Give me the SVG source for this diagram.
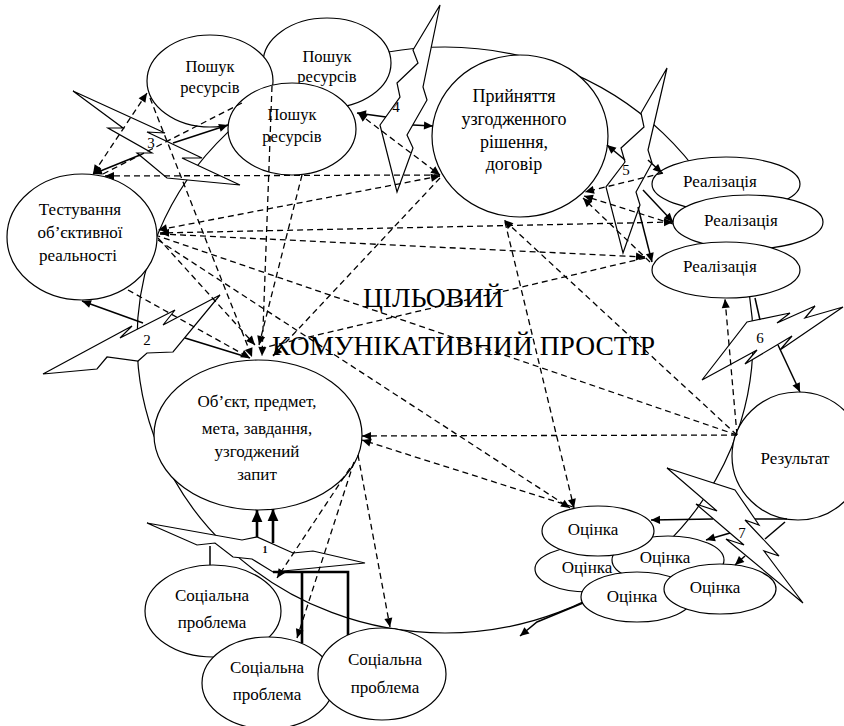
<svg xmlns="http://www.w3.org/2000/svg" width="844" height="726" viewBox="0 0 844 726" font-family="'Liberation Serif', 'DejaVu Serif', serif">
<style>
.n{fill:#fff;stroke:#000;stroke-width:1.2}
.t{font-family:'Liberation Serif','DejaVu Serif',serif;font-size:17px;fill:#000;text-anchor:middle}
.p{font-size:16.5px}
.big{font-size:18px}
.bolt{fill:#fff;stroke:#000;stroke-width:1.2;stroke-linejoin:miter}
.d{fill:none;stroke:#000;stroke-width:1.3;stroke-dasharray:6 4}
.s{fill:none;stroke:#000;stroke-width:1.5}
.k{fill:none;stroke:#000;stroke-width:2.6}
.title{font-family:'Liberation Serif','DejaVu Serif',serif;font-size:27.5px;fill:#000}
.bl{font-family:'Liberation Serif','DejaVu Serif',serif;font-size:15px;fill:#000;text-anchor:middle}
</style>
<defs>
<marker id="a" viewBox="0 0 10 10" refX="10" refY="5" markerWidth="10" markerHeight="9" markerUnits="userSpaceOnUse" orient="auto-start-reverse"><path d="M0,0.5 L10,5 L0,9.5 z" fill="#000"/></marker>
<marker id="b" viewBox="0 0 10 10" refX="10" refY="5" markerWidth="13" markerHeight="12" markerUnits="userSpaceOnUse" orient="auto-start-reverse"><path d="M0,0.5 L10,5 L0,9.5 z" fill="#000"/></marker>
</defs>

<!-- big space ellipse -->
<ellipse id="space" cx="445" cy="340" rx="308" ry="293" fill="none" stroke="#000" stroke-width="1.2"/>

<!-- lightning bolts -->
<g id="bolts">
<polygon class="bolt" points="365,563 313,551 293,553 257,537 242,540 147,523 197,545 215,543 233,557 252,559 273,572"/>
<polygon class="bolt" points="220,295 163,325 175,310 120,338 132,326 43,374 97,369 107,357 138,361 147,353 173,352"/>
<polygon class="bolt" points="240,185 182,158 202,158 147,132 165,133 73,91 123,128 108,128 152,153 137,153 167,178"/>
<polygon class="bolt" points="397,192 413,148 407,135 427,100 423,87 440,5 413,50 418,63 397,83 400,97 380,125"/>
<polygon class="bolt" points="623,253 640,205 636,192 652,163 648,150 667,68 641,113 644,127 621,148 625,162 606,187"/>
<polygon class="bolt" points="747,322 790,313 777,323 815,306 805,318 843,307 780,350 792,336 745,364 757,350 702,380"/>
<polygon class="bolt" points="735,490 759,525 745,520 779,556 764,551 803,603 726,539 744,545 696,504 717,511 667,468"/>
</g>

<!-- nodes -->
<g id="search2"><ellipse class="n" cx="327" cy="63" rx="64" ry="45"/><text class="t p" x="327" y="62">Пошук</text><text class="t p" x="327" y="82">ресурсів</text></g>
<g id="search1"><ellipse class="n" cx="210" cy="81" rx="63" ry="46"/><text class="t p" x="210" y="72">Пошук</text><text class="t p" x="210" y="93">ресурсів</text></g>
<g id="search3"><ellipse class="n" cx="292" cy="129" rx="64" ry="46"/><text class="t p" x="292" y="120">Пошук</text><text class="t p" x="292" y="142">ресурсів</text></g>
<g id="testing"><ellipse class="n" cx="82" cy="237" rx="75" ry="63"/><text class="t" x="80" y="215">Тестування</text><text class="t" x="80" y="238">об’єктивної</text><text class="t" x="78" y="261">реальності</text></g>
<g id="decision"><ellipse class="n" cx="520" cy="136" rx="88" ry="81"/><text class="t big" x="514" y="102">Прийняття</text><text class="t big" x="514" y="125">узгодженного</text><text class="t big" x="514" y="148">рішення,</text><text class="t big" x="514" y="170">договір</text></g>
<g id="real1"><ellipse class="n" cx="726" cy="184" rx="74" ry="27"/><text class="t" x="720" y="187">Реалізація</text></g>
<g id="real2"><ellipse class="n" cx="748" cy="222" rx="75" ry="27"/><text class="t" x="741" y="226">Реалізація</text></g>
<g id="real3"><ellipse class="n" cx="726" cy="270" rx="74" ry="28"/><text class="t" x="720" y="272">Реалізація</text></g>
<g id="result"><ellipse class="n" cx="798" cy="456" rx="66" ry="64"/><text class="t" x="795" y="464">Результат</text></g>
<g id="object"><ellipse class="n" cx="258" cy="435" rx="104" ry="75"/><text class="t" x="257" y="407">Об’єкт, предмет,</text><text class="t" x="257" y="434">мета, завдання,</text><text class="t" x="257" y="457">узгоджений</text><text class="t" x="257" y="480">запит</text></g>
<g id="soc1"><ellipse class="n" cx="213" cy="611" rx="68" ry="46"/><text class="t" x="212" y="601">Соціальна</text><text class="t" x="212" y="628">проблема</text></g>
<g id="soc2"><ellipse class="n" cx="268" cy="683" rx="66" ry="46"/><text class="t" x="267" y="673">Соціальна</text><text class="t" x="267" y="700">проблема</text></g>
<g id="soc3"><ellipse class="n" cx="382" cy="674" rx="64" ry="46"/><text class="t" x="385" y="665">Соціальна</text><text class="t" x="385" y="693">проблема</text></g>
<g id="eval3"><ellipse class="n" cx="588" cy="569" rx="53" ry="23"/><text class="t" x="587" y="573">Оцінка</text></g>
<g id="eval2"><ellipse class="n" cx="668" cy="560" rx="56" ry="24"/><text class="t" x="665" y="563">Оцінка</text></g>
<g id="eval1"><ellipse class="n" cx="598" cy="531" rx="56" ry="25"/><text class="t" x="593" y="535">Оцінка</text></g>
<g id="eval4"><ellipse class="n" cx="637" cy="597" rx="56" ry="25"/><text class="t" x="632" y="602">Оцінка</text></g>
<g id="eval5"><ellipse class="n" cx="720" cy="589" rx="56" ry="25"/><text class="t" x="715" y="593">Оцінка</text></g>

<!-- connectors -->
<g id="connectors">
<path class="d" d="M147,93 L93,174" marker-start="url(#a)" marker-end="url(#a)"/>
<path class="d" d="M150,98 L252,357" marker-end="url(#a)"/>
<path class="d" d="M272,86 L262,356" marker-end="url(#a)"/>
<path class="d" d="M302,175 L259,345" marker-end="url(#a)"/>
<path class="d" d="M440,175 L105,176" marker-end="url(#a)"/>
<path class="d" d="M440,176 L158,230" marker-start="url(#a)" marker-end="url(#a)"/>
<path class="d" d="M673,222 L160,233" marker-start="url(#a)" marker-end="url(#a)"/>
<path class="d" d="M160,234 L645,257" marker-end="url(#a)"/>
<path class="d" d="M128,290 L250,358" marker-end="url(#a)"/>
<path class="d" d="M737,435 L158,236"/>
<path class="d" d="M158,238 L255,345" marker-end="url(#a)"/>
<path class="d" d="M737,435 L362,436" marker-end="url(#a)"/>
<path class="d" d="M573,507 L362,440" marker-end="url(#a)"/>
<path class="d" d="M737,435 L725,299" marker-end="url(#a)"/>
<path class="d" d="M737,435 L504,220" marker-end="url(#a)"/>
<path class="d" d="M505,222 L574,508" marker-end="url(#a)"/>
<path class="d" d="M158,240 L570,508" marker-end="url(#a)"/>
<path class="d" d="M645,258 L262,348"/>
<path class="d" d="M358,113 L440,175" marker-start="url(#a)" marker-end="url(#a)"/>
<path class="d" d="M440,178 L273,356" marker-end="url(#a)"/>
<path class="d" d="M663,173 L585,192" marker-end="url(#a)"/>
<path class="d" d="M673,224 L584,196" marker-end="url(#a)"/>
<path class="d" d="M650,262 L583,198" marker-end="url(#a)"/>
<path class="d" d="M350,468 L277,578" marker-end="url(#a)"/>
<path class="d" d="M354,462 L297,638" marker-end="url(#a)"/>
<path class="d" d="M358,455 L390,627" marker-end="url(#a)"/>
<path class="d" d="M103,174 L242,103"/>

<path class="s" d="M143,323 L82,301" marker-end="url(#a)"/>
<path class="s" d="M185,338 L250,358"/>
<path class="s" d="M140,155 L93,174" marker-end="url(#a)"/>
<path class="s" d="M173,143 L228,125" marker-end="url(#a)"/>
<path class="s" d="M386,117 L357,113" marker-end="url(#a)"/>
<path class="s" d="M413,125 L433,126" marker-end="url(#a)"/>
<path class="s" d="M648,160 L662,173" marker-end="url(#a)"/>
<path class="s" d="M643,190 L673,222" marker-end="url(#a)"/>
<path class="s" d="M638,207 L652,262" marker-end="url(#a)"/>
<path class="s" d="M625,160 L607,145" marker-end="url(#a)"/>
<path class="s" d="M755,298 L760,320"/>
<path class="s" d="M778,345 L800,392" marker-end="url(#a)"/>
<path class="s" d="M787,519 L755,519"/>
<path class="s" d="M713,519 L651,520" marker-end="url(#a)"/>
<path class="s" d="M785,522 L765,539"/>
<path class="s" d="M730,533 L706,540" marker-end="url(#a)"/>
<path class="s" d="M745,556 L735,565" marker-end="url(#a)"/>
<path class="s" d="M583,603 L537,622 L520,636" marker-end="url(#a)"/>
<path class="k" d="M257,537 L257,510" marker-end="url(#b)"/>
<path class="k" d="M273,543 L273,509" marker-end="url(#b)"/>
<path class="s" d="M210,546 L210,565"/>
<path class="k" d="M302,643 L302,572 M273,572 L348,572 L348,635"/>
</g>

<!-- bolt labels -->
<g id="bolt-labels">
<text class="bl" x="265" y="553" style="font-size:10px;font-weight:bold">1</text>
<text class="bl" x="147" y="345">2</text>
<text class="bl" x="151" y="148">3</text>
<text class="bl" x="396" y="112">4</text>
<text class="bl" x="626" y="175">5</text>
<text class="bl" x="760" y="343">6</text>
<text class="bl" x="742" y="538">7</text>
</g>

<!-- title -->
<text class="title" x="363" y="307">ЦІЛЬОВИЙ</text>
<text class="title" x="272" y="355">КОМУНІКАТИВНИЙ ПРОСТІР</text>
</svg>
